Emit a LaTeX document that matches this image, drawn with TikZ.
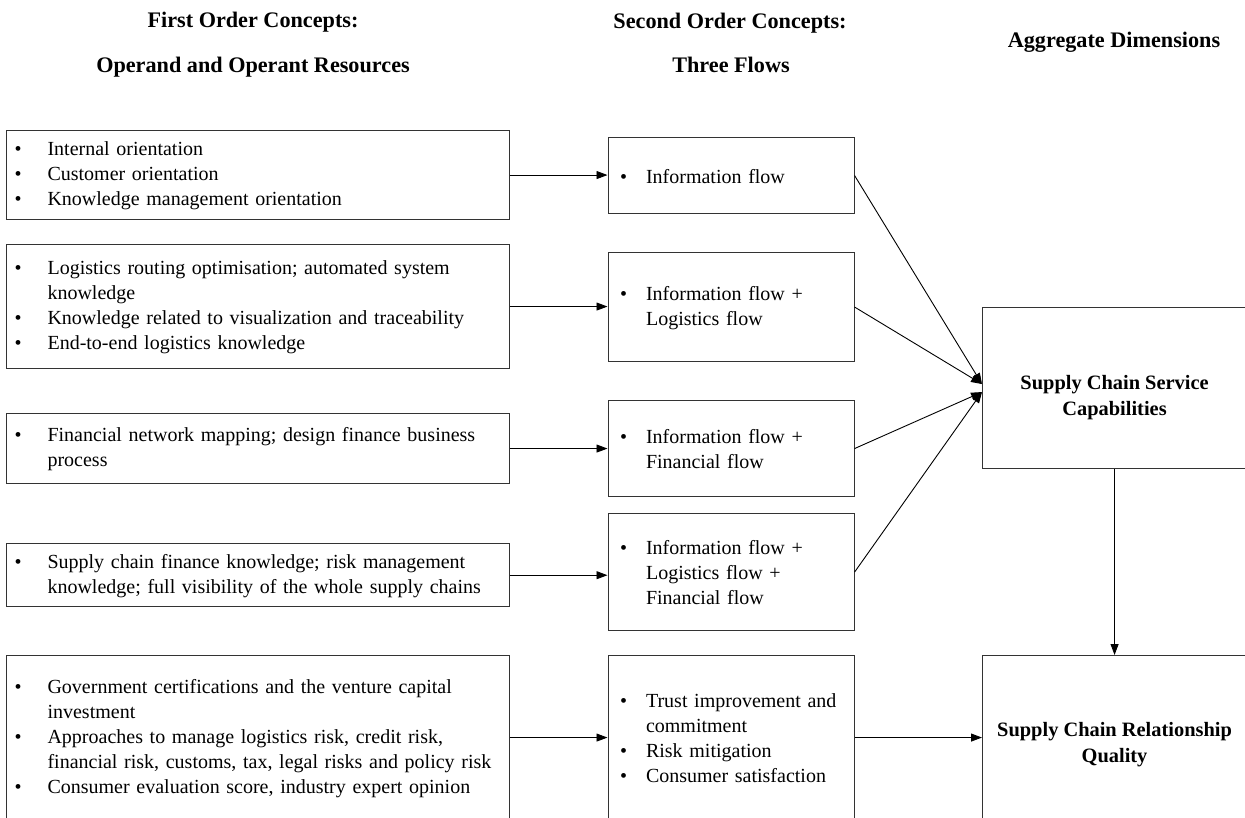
\documentclass[tikz,border=0pt]{standalone}
\usepackage{fontspec}
\setmainfont{Liberation Serif}
\usetikzlibrary{arrows.meta}

\newlength{\boff}
\newlength{\bind}
% one bullet line with hanging indent
\newcommand{\bpt}[1]{\par\noindent\hangindent=\bind\hangafter=1\makebox[\bind][l]{\hspace{\boff}\textbullet}#1\par}

\tikzset{
    head/.style={font=\fontsize{22.2}{26}\selectfont\bfseries},
    box/.style={draw=black!80, line width=1.1pt, inner sep=0pt, anchor=north west,
        align=left, font=\fontsize{20}{25}\selectfont, execute at end node={\vspace{9pt}}},
    lbox/.style={box, text width=503pt,
        execute at begin node={\setlength{\boff}{8pt}\setlength{\bind}{41pt}}},
    mbox/.style={box, text width=246pt,
        execute at begin node={\setlength{\boff}{12pt}\setlength{\bind}{38pt}}},
    rbox/.style={draw=black!80, line width=1.1pt, inner sep=0pt, anchor=north west,
        minimum width=264pt, align=center, font=\fontsize{20.4}{26}\selectfont\bfseries},
    arr/.style={line width=0.9pt, -{Triangle[length=11pt,width=8pt]}}
}

\begin{document}
\begin{tikzpicture}[x=1pt, y=-1pt]
    \clip (0,0) rectangle (1245,817);

    % Headings
    \node[head] (h1) at (253,22) {First Order Concepts:};
    \node[head] (h1b) at (253,67) {Operand and Operant Resources};
    \node[head] (h2) at (730,23) {Second Order Concepts:};
    \node[head] (h2b) at (731,65) {Three Flows};
    \node[head] (h3) at (1114,42) {Aggregate Dimensions};

    % First order concepts
    \node[lbox, minimum height=89pt] (lA) at (6,130)
        {\bpt{Internal orientation}\bpt{Customer orientation}\bpt{Knowledge management orientation}};
    \node[lbox, minimum height=124pt] (lB) at (6,244)
        {\bpt{Logistics routing optimisation; automated system\newline knowledge}%
         \bpt{Knowledge related to visualization and traceability}%
         \bpt{End-to-end logistics knowledge}};
    \node[lbox, minimum height=70pt] (lC) at (6,413)
        {\bpt{Financial network mapping; design finance business\newline process}};
    \node[lbox, minimum height=59pt] (lD) at (6,543)
        {\bpt{Supply chain finance knowledge; risk management\newline knowledge; full visibility of the whole supply chains}};
    \node[lbox, minimum height=164pt] (lE) at (6,655)
        {\bpt{Government certifications and the venture capital\newline investment}%
         \bpt{Approaches to manage logistics risk, credit risk,\newline financial risk, customs, tax, legal risks and policy risk}%
         \bpt{Consumer evaluation score, industry expert opinion}};

    % Second order concepts
    \node[mbox, minimum height=76pt] (mA) at (607.5,137) {\bpt{Information flow}};
    \node[mbox, minimum height=109pt] (mB) at (607.5,252)
        {\bpt{Information flow +\newline Logistics flow}};
    \node[mbox, minimum height=96pt] (mC) at (607.5,400)
        {\bpt{Information flow +\newline Financial flow}};
    \node[mbox, minimum height=117pt] (mD) at (607.5,513)
        {\bpt{Information flow +\newline Logistics flow +\newline Financial flow}};
    \node[mbox, minimum height=164pt] (mE) at (607.5,655)
        {\bpt{Trust improvement and\newline commitment}\bpt{Risk mitigation}\bpt{Consumer satisfaction}};

    % Aggregate dimensions
    \node[rbox, minimum height=161pt,
        label={[font=\fontsize{20.4}{26}\selectfont\bfseries, align=center, yshift=-10pt]center:Supply Chain Service\\Capabilities}]
        (F) at (982,307) {};
    \node[rbox, minimum height=178pt] (G) at (982,655) {Supply Chain Relationship\\Quality};

    % Connectors
    \foreach \n in {A,B,C,D,E}
        \draw[arr] (l\n.east) -- (l\n.east -| m\n.west);
    \draw[arr] (mA.east) -- ([yshift=4pt]F.west);
    \draw[arr] (mB.east) -- ([yshift=4pt]F.west);
    \draw[arr] (mC.east) -- ([yshift=-4pt]F.west);
    \draw[arr] (mD.east) -- ([yshift=-4pt]F.west);
    \draw[arr] (mE.east) -- (mE.east -| G.west);
    \draw[arr] (F.south) -- (G.north);
\end{tikzpicture}
\end{document}
